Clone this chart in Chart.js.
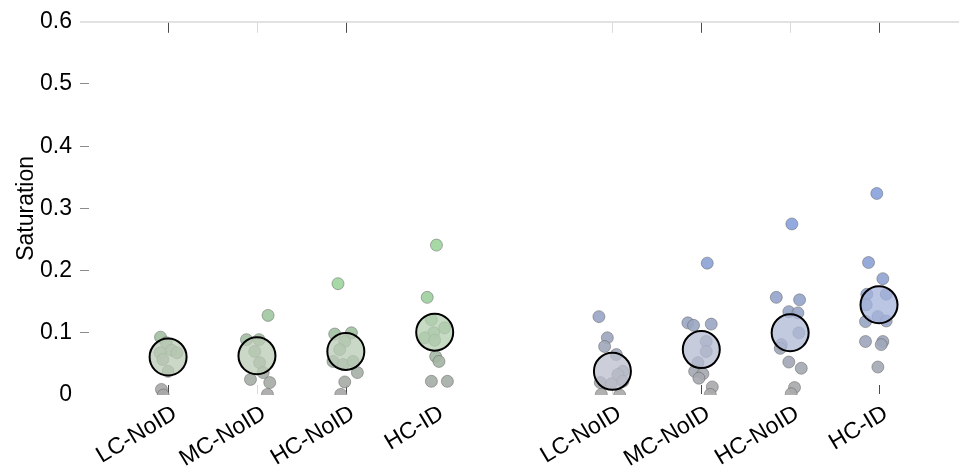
<!DOCTYPE html>
<html>
<head>
<meta charset="utf-8">
<script src="https://cdn.jsdelivr.net/npm/chart.js@4/dist/chart.umd.min.js"></script>
<style>
  html, body { margin: 0; padding: 0; background: #fff; overflow: hidden; }
  canvas { display: block; }
</style>
</head>
<body>
<canvas id="chart" width="959" height="471"></canvas>
<script>
// Condition positions on the x axis (gap at 5 separates the two sets)
const categoryPositions = [1, 2, 3, 4, 6, 7, 8, 9];
const categoryLabels = ['LC-NoID', 'MC-NoID', 'HC-NoID', 'HC-ID', 'LC-NoID', 'MC-NoID', 'HC-NoID', 'HC-ID'];
const yTickValues = [0, 0.1, 0.2, 0.3, 0.4, 0.5, 0.6];

// Group averages (large circles)
const groupMeans = [0.061, 0.063, 0.070, 0.101, 0.038, 0.073, 0.100, 0.145];

// Set 1 (green) — individual subjects, with horizontal jitter in axis units
const set1LcNoId = [0.093, 0.084, 0.072, 0.068, 0.068, 0.057, 0.038, 0.009, 0.000];
const set1LcNoIdJitter = [-0.085, -0.02, 0.04, 0.10, -0.09, -0.06, 0.0, -0.075, -0.055];
const set1McNoId = [0.128, 0.089, 0.089, 0.070, 0.052, 0.036, 0.025, 0.020, 0.001];
const set1McNoIdJitter = [0.125, -0.118, 0.024, -0.025, 0.03, 0.07, -0.073, 0.144, 0.118];
const set1HcNoId = [0.179, 0.098, 0.100, 0.086, 0.073, 0.054, 0.049, 0.054, 0.036, 0.021, 0.001];
const set1HcNoIdJitter = [-0.088, -0.125, 0.063, -0.012, -0.069, -0.144, -0.031, 0.081, 0.13, -0.012, -0.057];
const set1HcId = [0.241, 0.157, 0.121, 0.108, 0.100, 0.092, 0.088, 0.062, 0.054, 0.022, 0.022];
const set1HcIdJitter = [0.02, -0.084, -0.037, 0.112, -0.011, -0.112, 0.0, 0.011, 0.048, -0.037, 0.143];

// Set 2 (blue)
const set2LcNoId = [0.126, 0.092, 0.078, 0.065, 0.038, 0.033, 0.020, 0.018, 0.022, 0.001, 0.000];
const set2LcNoIdJitter = [-0.152, -0.057, -0.088, 0.044, 0.118, 0.062, -0.136, -0.012, 0.118, -0.125, 0.081];
const set2McNoId = [0.212, 0.116, 0.112, 0.114, 0.086, 0.070, 0.052, 0.038, 0.034, 0.027, 0.013, 0.001];
const set2McNoIdJitter = [0.067, -0.151, -0.087, 0.112, 0.056, 0.056, -0.038, -0.075, 0.018, -0.027, 0.124, 0.101];
const set2HcNoId = [0.275, 0.157, 0.153, 0.134, 0.132, 0.100, 0.081, 0.075, 0.053, 0.043, 0.012, 0.002];
const set2HcNoIdJitter = [0.019, -0.156, 0.106, -0.015, 0.087, 0.098, -0.1, -0.111, -0.015, 0.125, 0.049, 0.012];
const set2HcId = [0.324, 0.213, 0.187, 0.162, 0.162, 0.145, 0.126, 0.118, 0.119, 0.086, 0.086, 0.081, 0.045];
const set2HcIdJitter = [-0.025, -0.118, 0.043, -0.137, 0.081, -0.144, -0.013, -0.152, 0.081, -0.152, 0.043, 0.025, -0.013];

const set1Values = [set1LcNoId, set1McNoId, set1HcNoId, set1HcId];
const set1Jitter = [set1LcNoIdJitter, set1McNoIdJitter, set1HcNoIdJitter, set1HcIdJitter];
const set2Values = [set2LcNoId, set2McNoId, set2HcNoId, set2HcId];
const set2Jitter = [set2LcNoIdJitter, set2McNoIdJitter, set2HcNoIdJitter, set2HcIdJitter];

function buildPoints(valueLists, jitterLists, positions) {
  const out = [];
  valueLists.forEach((vals, i) => {
    vals.forEach((v, j) => out.push({ x: positions[i] + jitterLists[i][j], y: v }));
  });
  return out;
}

const set1Points = buildPoints(set1Values, set1Jitter, categoryPositions.slice(0, 4));
const set2Points = buildPoints(set2Values, set2Jitter, categoryPositions.slice(4));
const meanPoints = categoryPositions.map((p, i) => ({ x: p, y: groupMeans[i] }));

// Colour ramps: grey for low saturation towards the set's hue for high saturation
function ramp(lo, hi, t, alpha) {
  t = Math.max(0, Math.min(1, t));
  const c = lo.map((l, k) => Math.round(l + (hi[k] - l) * t));
  return `rgba(${c[0]},${c[1]},${c[2]},${alpha})`;
}
const greenPoint = v => ramp([168, 168, 168], [158, 214, 158], v / 0.18, 0.92);
const bluePoint = v => ramp([170, 170, 170], [138, 163, 222], v / 0.24, 0.92);
const greenMean = v => ramp([196, 198, 190], [172, 210, 170], v / 0.15, 0.76);
const blueMean = v => ramp([196, 197, 200], [160, 176, 222], v / 0.17, 0.76);

// Short tick marks on the top and bottom edges at each condition
const edgeTickShade = ['#4a4a4a', '#dadada', '#4a4a4a', null, '#dadada', '#4a4a4a', '#dadada', '#4a4a4a'];
const edgeTicks = {
  id: 'edgeTicks',
  beforeDatasetsDraw(chart) {
    const { ctx, chartArea, scales: { x } } = chart;
    ctx.save();
    ctx.lineWidth = 1;
    categoryPositions.forEach((p, i) => {
      const shade = edgeTickShade[i];
      if (!shade) return;
      const px = Math.round(x.getPixelForValue(p)) + 0.5;
      ctx.strokeStyle = shade;
      ctx.beginPath();
      ctx.moveTo(px, chartArea.top + 1);
      ctx.lineTo(px, chartArea.top + 11);
      ctx.moveTo(px, chartArea.bottom - 10);
      ctx.lineTo(px, chartArea.bottom - 1);
      ctx.stroke();
    });
    ctx.restore();
  }
};

const isNear = (a, b) => Math.abs(a - b) < 1e-6;

new Chart(document.getElementById('chart'), {
  type: 'scatter',
  data: {
    datasets: [
      {
        label: 'Mean',
        data: meanPoints,
        order: 0,
        pointRadius: 18.5,
        pointBorderWidth: 2,
        borderColor: '#000',
        backgroundColor: ctx => (ctx.dataIndex < 4 ? greenMean(ctx.raw.y) : blueMean(ctx.raw.y))
      },
      {
        label: 'Set 1',
        data: set1Points,
        order: 1,
        pointRadius: 6,
        pointBorderWidth: 0.8,
        borderColor: 'rgba(90,90,90,0.6)',
        backgroundColor: ctx => greenPoint(ctx.raw.y)
      },
      {
        label: 'Set 2',
        data: set2Points,
        order: 1,
        pointRadius: 6,
        pointBorderWidth: 0.8,
        borderColor: 'rgba(90,90,90,0.6)',
        backgroundColor: ctx => bluePoint(ctx.raw.y)
      }
    ]
  },
  options: {
    responsive: false,
    animation: false,
    devicePixelRatio: 1,
    layout: { autoPadding: false, padding: { top: 17, right: 0, bottom: 0, left: 0 } },
    plugins: { legend: { display: false }, tooltip: { enabled: false } },
    scales: {
      x: {
        type: 'linear',
        min: 0.11,
        max: 9.9,
        border: { display: false },
        grid: { display: false, drawTicks: false },
        afterBuildTicks: scale => { scale.ticks = categoryPositions.map(v => ({ value: v })); },
        afterFit: scale => { scale.height = 76; scale.paddingLeft = 0; scale.paddingRight = 0; },
        ticks: {
          autoSkip: false,
          minRotation: 31,
          maxRotation: 31,
          padding: 5,
          labelOffset: 7,
          color: '#000',
          font: { family: '"Liberation Sans", Arial, sans-serif', size: 23 },
          callback: v => categoryLabels[categoryPositions.indexOf(v)] ?? ''
        }
      },
      y: {
        min: 0,
        max: 0.6,
        border: { display: false },
        afterBuildTicks: scale => { scale.ticks = yTickValues.map(v => ({ value: v })); },
        afterFit: scale => { scale.width = 89; },
        grid: {
          drawOnChartArea: true,
          drawTicks: true,
          tickLength: 9,
          color: ctx => (ctx.tick && isNear(ctx.tick.value, 0.6) ? '#e2e2e2' : 'rgba(0,0,0,0)'),
          lineWidth: ctx => (ctx.tick && isNear(ctx.tick.value, 0.6) ? 2 : 1),
          tickColor: ctx => {
            if (!ctx.tick) return 'rgba(0,0,0,0)';
            if (isNear(ctx.tick.value, 0.6)) return '#e2e2e2';
            if (isNear(ctx.tick.value, 0)) return 'rgba(0,0,0,0)';
            return '#8c8c8c';
          }
        },
        ticks: {
          padding: 8,
          color: '#000',
          font: { family: '"Liberation Sans", Arial, sans-serif', size: 23 },
          callback: v => (isNear(v, 0) ? '0' : v.toFixed(1))
        },
        title: {
          display: true,
          text: 'Saturation',
          color: '#000',
          padding: { top: 13, bottom: 0 },
          font: { family: '"Liberation Sans", Arial, sans-serif', size: 23 }
        }
      }
    }
  },
  plugins: [edgeTicks]
});
</script>
</body>
</html>
